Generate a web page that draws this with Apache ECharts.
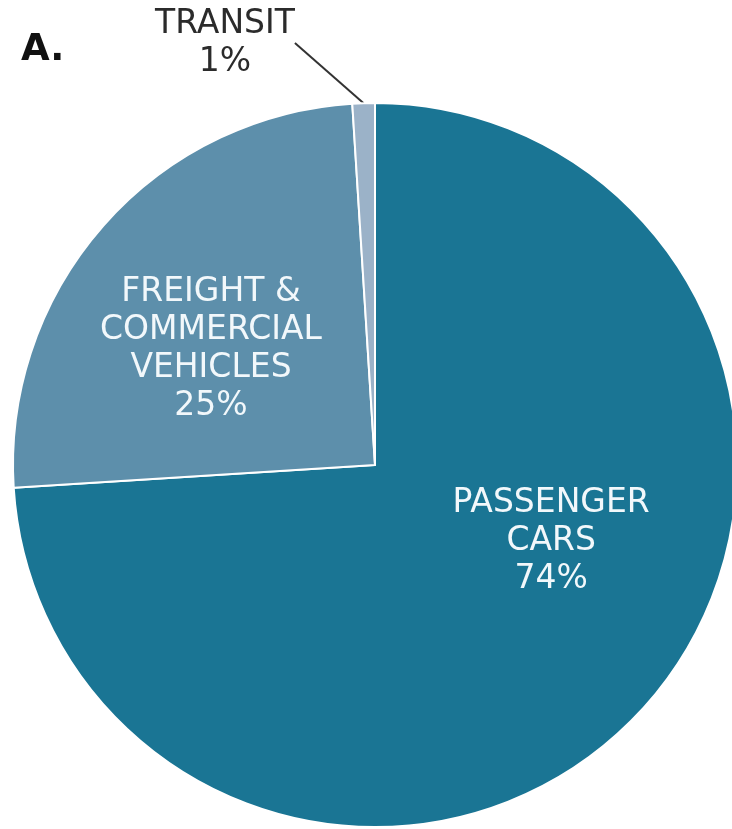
<!DOCTYPE html>
<html>
<head>
<meta charset="utf-8">
<script src="https://cdn.jsdelivr.net/npm/echarts@6/dist/echarts.min.js"></script>
<style>
  html, body { margin: 0; padding: 0; background: #ffffff; }
  #chart { width: 732px; height: 829px; }
</style>
</head>
<body>
<div id="chart"></div>
<script>
// Share of transportation emissions by mode
const categories = ['PASSENGER\nCARS', 'FREIGHT &\nCOMMERCIAL\nVEHICLES', 'TRANSIT'];
const shares = [74, 25, 1];
const sliceColors = ['#1a7594', '#5d8fab', '#9bb2c8'];

const FONT = "'DejaVu Sans', 'Noto Sans', sans-serif";

const chart = echarts.init(document.getElementById('chart'), null, { renderer: 'canvas' });

const seriesData = categories.map((name, i) => {
  const item = {
    name: name,
    value: shares[i],
    itemStyle: { color: sliceColors[i] }
  };
  if (i === 0) {
    item.label = { position: 'inside', offset: [42, -50] };
  } else if (i === 1) {
    item.label = { position: 'inside', offset: [-26, 6] };
  } else {
    item.label = {
      position: 'outside',
      color: '#2b2b2b'
    };
    item.labelLine = {
      show: true,
      length: 30,
      length2: 0,
      lineStyle: { color: '#333333', width: 2 }
    };
  }
  return item;
});

chart.setOption({
  animation: false,
  backgroundColor: '#ffffff',
  title: {
    text: 'A.',
    left: 16,
    top: 27,
    textStyle: { fontFamily: FONT, fontSize: 37, fontWeight: 'bold', color: '#111111' }
  },
  series: [{
    type: 'pie',
    center: [375, 465],
    radius: [0, 362],
    startAngle: 90,
    clockwise: true,
    avoidLabelOverlap: false,
    itemStyle: { borderColor: '#ffffff', borderWidth: 2 },
    label: {
      show: true,
      formatter: p => p.name + '\n' + p.value + '%',
      fontFamily: FONT,
      fontSize: 33,
      lineHeight: 38,
      color: '#f2f8fb',
      align: 'center'
    },
    labelLayout: function (params) {
      if (params.dataIndex === 2) {
        return { x: 225, y: 43, align: 'center', verticalAlign: 'middle' };
      }
      return {};
    },
    data: seriesData
  }]
});
</script>
</body>
</html>
